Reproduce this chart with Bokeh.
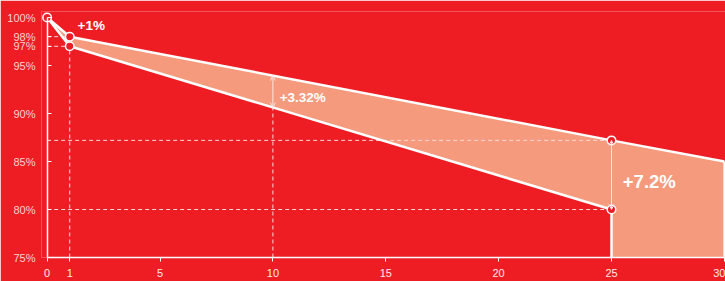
import numpy as np
from bokeh.plotting import figure
from bokeh.models import Range1d, FixedTicker, Arrow, OpenHead, PrintfTickFormatter, LinearAxis
from bokeh.core.properties import value
from bokeh.embed import file_html
from bokeh.resources import INLINE

# ---- data ----
upper_x = [0, 1, 25, 30]
upper_y = [100, 98, 87.2, 85.0]
lower_x = [0, 1, 25]
lower_y = [100, 97, 80]
floor_y = 75
x_ticks = [0, 1, 5, 10, 15, 20, 25, 30]
y_ticks = [75, 80, 85, 90, 95, 97, 98, 100]
gap_labels = ["+1%", "+3.32%", "+7.2%"]
arrow_years = [10, 25]

# ---- styles ----
RED = "#EE1D24"
SALMON = "#F59A7C"
DASH = "#FFD6D6"
FONT = "Liberation Sans"

p = figure(width=725, height=281, x_range=Range1d(-0.25, 30.05), y_range=Range1d(75, 100.625),
           output_backend="svg", toolbar_location=None,
           min_border_left=41, min_border_right=0, min_border_top=11, min_border_bottom=24,
           background_fill_color=RED, border_fill_color=RED, outline_line_color=None)
p.xgrid.visible = False
p.ygrid.visible = False

# shaded area between the two curves
patch_x = upper_x + [upper_x[-1], lower_x[-1]] + lower_x[::-1]
patch_y = upper_y + [floor_y, floor_y] + lower_y[::-1]
p.patch(patch_x, patch_y, fill_color=SALMON, line_color=None)

# dashed guides
lo10 = float(np.interp(arrow_years[0], lower_x, lower_y))
up10 = float(np.interp(arrow_years[0], upper_x, upper_y))
hx0 = [0, 0, 0, 0]
hy = [upper_y[1], lower_y[1], upper_y[2], lower_y[2]]
hx1 = [upper_x[1], lower_x[1], upper_x[2], lower_x[2]]
p.segment(x0=hx0, y0=hy, x1=hx1, y1=hy, line_color=DASH, line_width=1, line_dash="4 3")
vx = [lower_x[1], arrow_years[0]]
vy1 = [lower_y[1], lo10]
p.segment(x0=vx, y0=[floor_y, floor_y], x1=vx, y1=vy1, line_color=DASH, line_width=1, line_dash="4 3")

# curves
p.line(upper_x, upper_y, line_color="white", line_width=2.5)
p.line(lower_x + [lower_x[-1]], lower_y + [floor_y], line_color="white", line_width=2.5)
p.segment(x0=[upper_x[-1]], y0=[upper_y[-1]], x1=[upper_x[-1]], y1=[floor_y],
          line_color="white", line_width=2)

# arrows
lo25 = float(np.interp(arrow_years[1], lower_x, lower_y))
up25 = float(np.interp(arrow_years[1], upper_x, upper_y))
for (yr, a, b) in [(arrow_years[0], lo10, up10), (arrow_years[1], lo25, up25)]:
    p.add_layout(Arrow(x_start=yr, y_start=a, x_end=yr, y_end=b, line_color="#FFE4E4", line_width=1,
                       start=OpenHead(size=5, line_color="#FFE4E4", line_width=1),
                       end=OpenHead(size=5, line_color="#FFE4E4", line_width=1)))

# points
pts_x = lower_x + upper_x[1:3]
pts_y = lower_y + upper_y[1:3]
p.scatter(pts_x, pts_y, size=8.5, fill_color=RED, line_color="white", line_width=1.5)

# gap labels
label_x = [1.35, 10.3, 25.5]
label_y = [99.2, 91.7, 82.9]
label_sizes = ["13.5px", "13.5px", "18.5px"]
for t, lx, ly, fs in zip(gap_labels, label_x, label_y, label_sizes):
    p.text(x=[lx], y=[ly], text=[t], text_color="white", text_font=value(FONT),
           text_font_style="bold", text_font_size=fs, text_align="left", text_baseline="middle")

# axes
xa = p.xaxis[0]
xa.ticker = FixedTicker(ticks=x_ticks)
xa.bounds = (0, 30)
xa.axis_line_color = "white"
xa.axis_line_width = 1.5
xa.major_tick_line_color = "white"
xa.major_tick_out = 4
xa.major_tick_in = 0
xa.minor_tick_line_color = None
xa.major_label_text_color = "#FFE8E8"
xa.major_label_text_font = FONT
xa.major_label_text_font_size = "11px"
xa.major_label_standoff = 7

# y labels (on frame edge)
ya = p.yaxis[0]
ya.ticker = FixedTicker(ticks=y_ticks)
ya.formatter = PrintfTickFormatter(format="%d%%")
ya.axis_line_color = None
ya.major_tick_line_color = None
ya.major_tick_in = 0
ya.major_tick_out = 0
ya.minor_tick_line_color = None
ya.major_label_text_color = "#FAD0D0"
ya.major_label_text_font = FONT
ya.major_label_text_font_size = "11px"
ya.major_label_standoff = 6

# y axis line and ticks at x = 0
ya2 = LinearAxis(ticker=FixedTicker(ticks=y_ticks), fixed_location=0, bounds=(75, 100),
                 axis_line_color="white", axis_line_width=1.5,
                 major_tick_line_color="white", major_tick_in=4, major_tick_out=0,
                 minor_tick_line_color=None, major_label_text_color=None,
                 major_label_text_font_size="1px")
p.add_layout(ya2, "left")

open("out.html", "w").write(file_html(p, INLINE))
